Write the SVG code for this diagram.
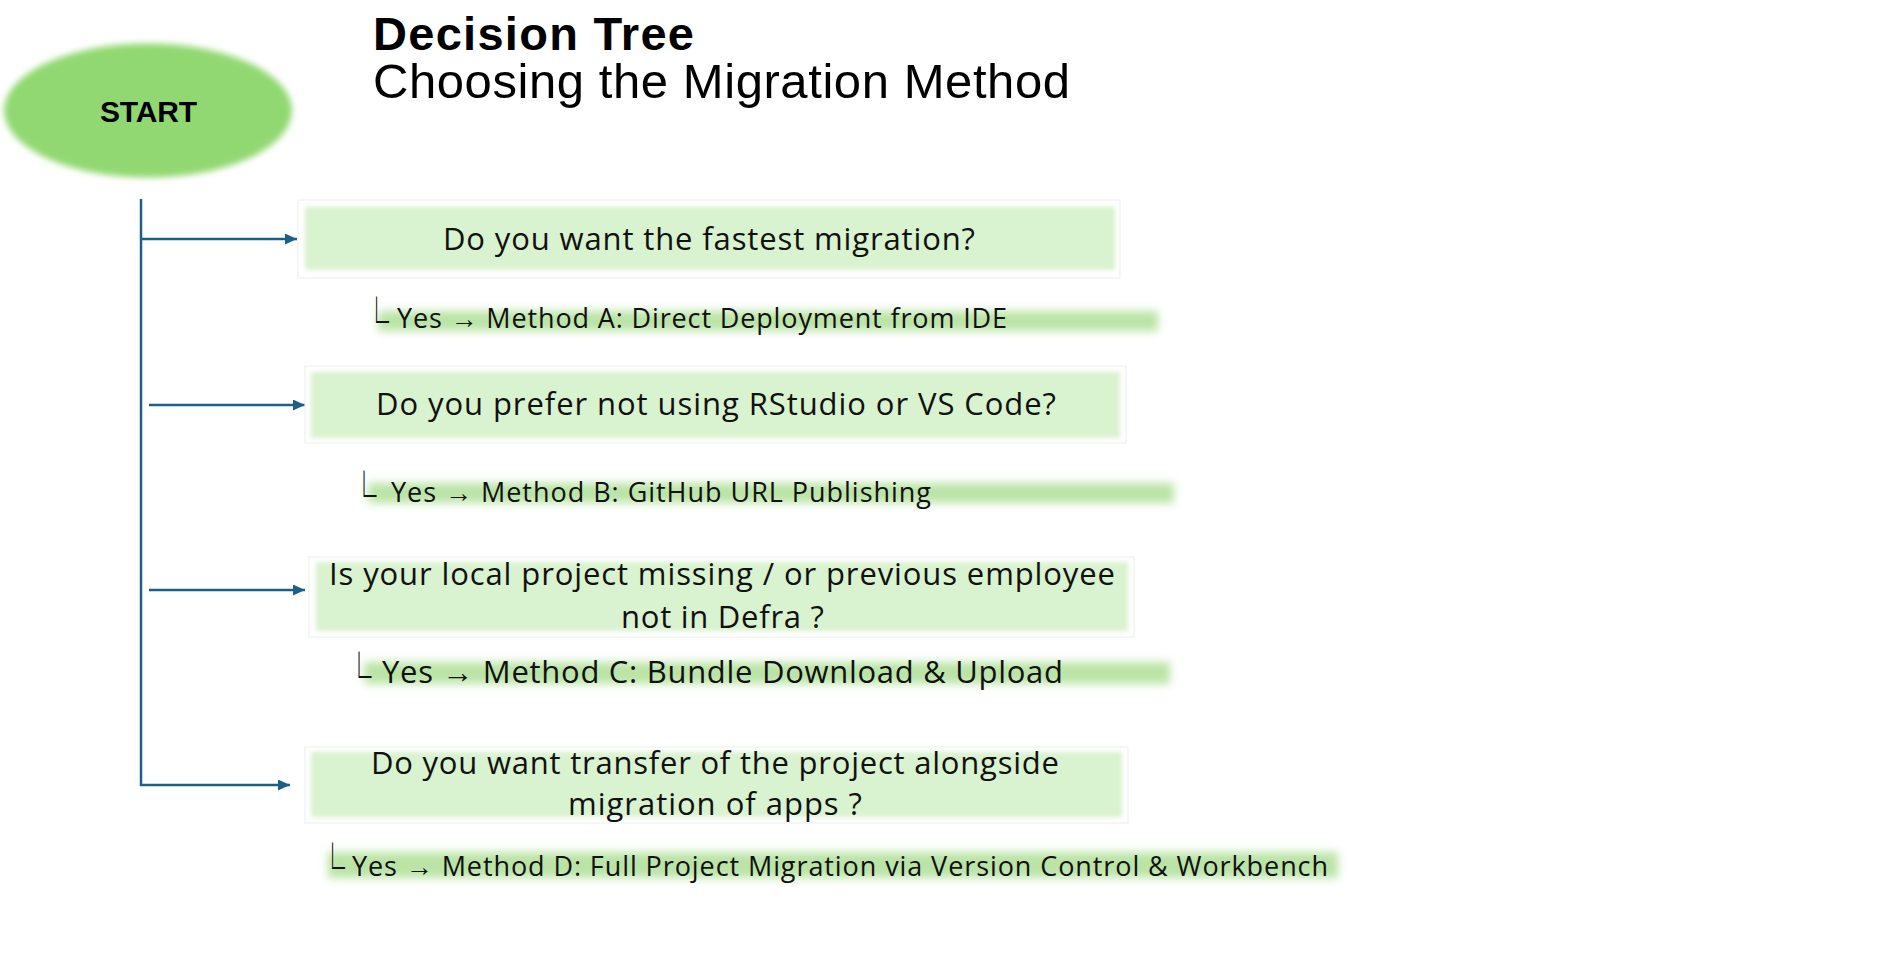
<svg xmlns="http://www.w3.org/2000/svg" width="1903" height="959" viewBox="0 0 1903 959">
<defs>
<style>
.title{font-family:"Liberation Sans",Arial,sans-serif;fill:#000}
.q{font-family:"Open Sans","Liberation Sans",sans-serif;font-size:31px;fill:#111;text-anchor:middle}
.m{font-family:"Open Sans","Liberation Sans",sans-serif;fill:#111}
.corner{font-family:"Noto Sans CJK SC","DejaVu Sans",sans-serif;font-size:50px;fill:#111}
.conn{fill:none;stroke:#1d5f86;stroke-width:2.5}
.outer{fill:#ffffff;stroke:#f0f0f0;stroke-width:1.2}
.inner{fill:#d9f2cf}
.band{fill:#b4e19d;opacity:0.9}
</style>
<filter id="soft" x="-5%" y="-20%" width="110%" height="140%"><feGaussianBlur stdDeviation="2"/></filter>
<filter id="glow" x="-5%" y="-60%" width="110%" height="220%"><feGaussianBlur stdDeviation="4"/></filter>
<filter id="eblur" x="-10%" y="-10%" width="120%" height="120%"><feGaussianBlur stdDeviation="3"/></filter>
<marker id="ah" markerUnits="userSpaceOnUse" markerWidth="12" markerHeight="11" refX="12" refY="5.5" orient="auto">
<path d="M0,0 L12,5.5 L0,11 z" fill="#1d5f86"/>
</marker>
</defs>

<g id="title">
<text class="title" x="373" y="50" font-size="47" font-weight="bold" textLength="321">Decision Tree</text>
<text class="title" x="373" y="98" font-size="49" textLength="697">Choosing the Migration Method</text>
</g>

<g id="start">
<ellipse cx="148" cy="110.5" rx="144" ry="67" fill="#92d872" filter="url(#eblur)"/>
<text x="148.5" y="122" font-family="Liberation Sans,Arial,sans-serif" font-weight="bold" font-size="30" text-anchor="middle" fill="#000" textLength="97">START</text>
</g>

<g id="connectors">
<path class="conn" d="M141,199 V785 H290" marker-end="url(#ah)"/>
<path class="conn" d="M141,239 H297" marker-end="url(#ah)"/>
<path class="conn" d="M149,405 H305" marker-end="url(#ah)"/>
<path class="conn" d="M149,590 H305" marker-end="url(#ah)"/>
</g>

<g id="q1">
<rect class="outer" x="298" y="200" width="822" height="78"/>
<rect class="inner" x="305" y="207" width="810" height="63" filter="url(#soft)"/>
<text class="q" x="709" y="250" textLength="532">Do you want the fastest migration?</text>
</g>

<g id="methodA">
<rect class="band" x="378" y="311" width="780" height="20" filter="url(#glow)"/>
<text class="corner" transform="translate(364,341) scale(0.5,1)">└</text>
<text class="m" x="397" y="328" font-size="27" textLength="610">Yes → Method A: Direct Deployment from IDE</text>
</g>

<g id="q2">
<rect class="outer" x="305" y="366" width="821" height="77"/>
<rect class="inner" x="311" y="372" width="809" height="66" filter="url(#soft)"/>
<text class="q" x="716" y="415" textLength="680">Do you prefer not using RStudio or VS Code?</text>
</g>

<g id="methodB">
<rect class="band" x="368" y="483" width="806" height="20" filter="url(#glow)"/>
<text class="corner" transform="translate(351.5,515) scale(0.5,1)">└</text>
<text class="m" x="391" y="502" font-size="27" textLength="540">Yes → Method B: GitHub URL Publishing</text>
</g>

<g id="q3">
<rect class="outer" x="309" y="557" width="825" height="80"/>
<rect class="inner" x="316" y="562" width="812" height="69" filter="url(#soft)"/>
<text class="q" x="722" y="585" textLength="786">Is your local project missing / or previous employee</text>
<text class="q" x="722.5" y="628" textLength="203">not in Defra ?</text>
</g>

<g id="methodC">
<rect class="band" x="364" y="662" width="806" height="22" filter="url(#glow)"/>
<text class="corner" transform="translate(346.5,696) scale(0.5,1)">└</text>
<text class="m" x="382" y="683" font-size="31" textLength="681">Yes → Method C: Bundle Download &amp; Upload</text>
</g>

<g id="q4">
<rect class="outer" x="305" y="747" width="823" height="76"/>
<rect class="inner" x="311" y="752" width="811" height="65" filter="url(#soft)"/>
<text class="q" x="715" y="774" textLength="688">Do you want transfer of the project alongside</text>
<text class="q" x="715" y="815" textLength="294">migration of apps ?</text>
</g>

<g id="methodD">
<rect class="band" x="328" y="852" width="1010" height="26" filter="url(#glow)"/>
<text class="corner" transform="translate(320,887) scale(0.5,1)">└</text>
<text class="m" x="352" y="876" font-size="27" textLength="976">Yes → Method D: Full Project Migration via Version Control &amp; Workbench</text>
</g>
</svg>
